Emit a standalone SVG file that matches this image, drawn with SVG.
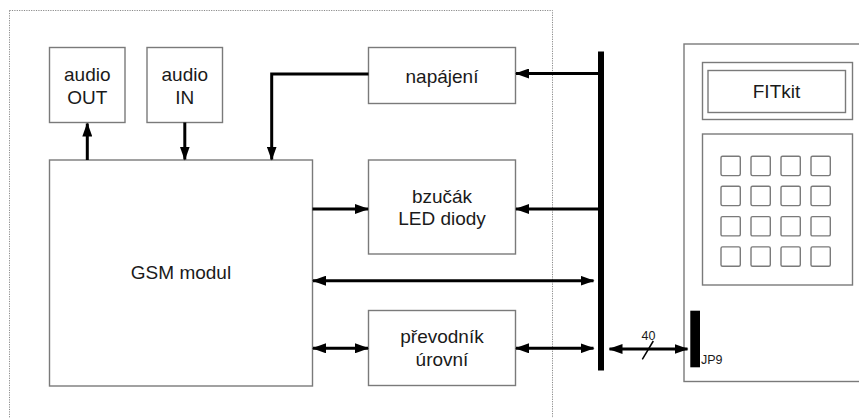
<svg xmlns="http://www.w3.org/2000/svg" width="859" height="418" viewBox="0 0 859 418">
<defs>
<style>
.box{fill:#fff;stroke:#7a7a7a;stroke-width:1.4}
.key{fill:#fff;stroke:#7a7a7a;stroke-width:1.4}
.t{font-family:"Liberation Sans",Arial,sans-serif;font-size:19px;fill:#1a1a1a;text-anchor:middle}
.s{font-family:"Liberation Sans",Arial,sans-serif;font-size:12.5px;fill:#1a1a1a}
.c{fill:none;stroke:#000;stroke-width:3}
.bar{fill:#000}
</style>
<marker id="ah" viewBox="0 0 14 10" refX="13" refY="5" markerWidth="14" markerHeight="10" markerUnits="userSpaceOnUse" orient="auto-start-reverse">
<path d="M0,0 L14,5 L0,10 Z" fill="#000"/>
</marker>
</defs>
<rect width="859" height="418" fill="#fff"/>
<rect x="9.5" y="10.5" width="543" height="420" fill="none" stroke="#8a8a8a" stroke-width="1" stroke-dasharray="1.2,1.2"/>

<g id="audio-out"><rect class="box" x="49.5" y="47.5" width="75.5" height="75"/><text class="t" x="87.3" y="80.5">audio</text><text class="t" x="87.3" y="103.5">OUT</text></g>
<g id="audio-in"><rect class="box" x="147" y="47.5" width="75.5" height="75"/><text class="t" x="184.8" y="80.5">audio</text><text class="t" x="184.8" y="103.5">IN</text></g>
<g id="gsm"><rect class="box" x="49.5" y="160" width="263" height="226"/><text class="t" x="181" y="279">GSM modul</text></g>
<g id="napajeni"><rect class="box" x="368.5" y="47.5" width="147" height="56"/><text class="t" x="442" y="82.5">napájení</text></g>
<g id="bzucak"><rect class="box" x="368.5" y="160" width="147" height="94"/><text class="t" x="442" y="202.5">bzučák</text><text class="t" x="442" y="225">LED diody</text></g>
<g id="prevodnik"><rect class="box" x="368.5" y="310.5" width="147" height="75"/><text class="t" x="442" y="342.5">převodník</text><text class="t" x="442" y="365.5">úrovní</text></g>
<g id="bus"><rect class="bar" x="598" y="51.5" width="6" height="319"/></g>
<g id="fitkit">
<rect class="box" x="684" y="44" width="190" height="337.5"/>
<rect class="box" x="702.5" y="62.5" width="150" height="57"/>
<rect class="box" x="708" y="70.5" width="137.5" height="42"/>
<text class="t" x="776.5" y="98">FITkit</text>
<rect class="box" x="702.5" y="134" width="150" height="151"/>
<g>
<rect class="key" x="721" y="156.3" width="19.3" height="19.3" rx="1.5"/><rect class="key" x="751" y="156.3" width="19.3" height="19.3" rx="1.5"/><rect class="key" x="781" y="156.3" width="19.3" height="19.3" rx="1.5"/><rect class="key" x="811" y="156.3" width="19.3" height="19.3" rx="1.5"/>
<rect class="key" x="721" y="186.3" width="19.3" height="19.3" rx="1.5"/><rect class="key" x="751" y="186.3" width="19.3" height="19.3" rx="1.5"/><rect class="key" x="781" y="186.3" width="19.3" height="19.3" rx="1.5"/><rect class="key" x="811" y="186.3" width="19.3" height="19.3" rx="1.5"/>
<rect class="key" x="721" y="216.6" width="19.3" height="19.3" rx="1.5"/><rect class="key" x="751" y="216.6" width="19.3" height="19.3" rx="1.5"/><rect class="key" x="781" y="216.6" width="19.3" height="19.3" rx="1.5"/><rect class="key" x="811" y="216.6" width="19.3" height="19.3" rx="1.5"/>
<rect class="key" x="721" y="246.9" width="19.3" height="19.3" rx="1.5"/><rect class="key" x="751" y="246.9" width="19.3" height="19.3" rx="1.5"/><rect class="key" x="781" y="246.9" width="19.3" height="19.3" rx="1.5"/><rect class="key" x="811" y="246.9" width="19.3" height="19.3" rx="1.5"/>
</g>
</g>
<g id="jp9"><rect class="bar" x="690.3" y="310.7" width="9.7" height="56.6"/><text class="s" x="701" y="363.5">JP9</text></g>

<g id="connectors">
<path class="c" d="M87.3,160 V123.5" marker-end="url(#ah)"/>
<path class="c" d="M184.8,122.5 V159.5" marker-end="url(#ah)"/>
<path class="c" d="M368.5,74 H271.7 V159.5" marker-end="url(#ah)"/>
<path class="c" d="M598,73.5 H516" marker-end="url(#ah)"/>
<path class="c" d="M312.5,209 H368" marker-end="url(#ah)"/>
<path class="c" d="M598,209 H516" marker-end="url(#ah)"/>
<path class="c" d="M313,280.7 H593.5" marker-start="url(#ah)" marker-end="url(#ah)"/>
<path class="c" d="M313,348.3 H368" marker-start="url(#ah)" marker-end="url(#ah)"/>
<path class="c" d="M516,348.3 H593.5" marker-start="url(#ah)" marker-end="url(#ah)"/>
<path class="c" d="M609.5,349 H687.5" stroke-width="2.5" marker-start="url(#ah)" marker-end="url(#ah)"/>
<path d="M642.3,359.3 L653.3,341" stroke="#000" stroke-width="1.5"/>
<text class="s" x="648.5" y="339.5" text-anchor="middle">40</text>
</g>
</svg>
